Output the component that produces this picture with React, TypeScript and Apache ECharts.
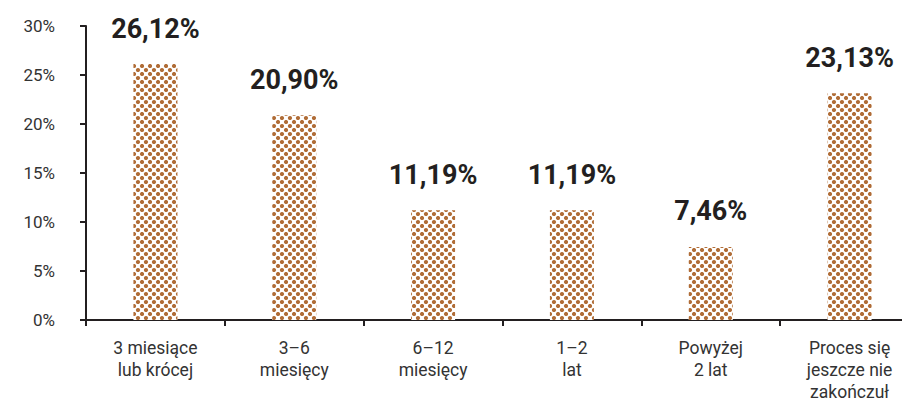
import React, { useEffect, useRef } from "react";
import * as echarts from "echarts";

const categories = [
  "3 miesiące\nlub krócej",
  "3–6\nmiesięcy",
  "6–12\nmiesięcy",
  "1–2\nlat",
  "Powyżej\n2 lat",
  "Proces się\njeszcze nie\nzakończuł",
];
const values = [26.12, 20.9, 11.19, 11.19, 7.46, 23.13];

export default function App() {
  const ref = useRef<HTMLDivElement>(null);
  useEffect(() => {
    if (!ref.current) return;
    const chart = echarts.init(ref.current, null, { renderer: "svg" });
    const font = "Roboto, 'DejaVu Sans', sans-serif";
    chart.setOption({
      animation: false,
      backgroundColor: "#ffffff",
      grid: { left: 86, top: 26, bottom: 84, right: -17, containLabel: false, outerBoundsMode: "none" },
      xAxis: {
        type: "category",
        data: categories,
        axisLine: { show: true, lineStyle: { color: "#231f20", width: 2 } },
        axisTick: { show: true, length: 6, lineStyle: { color: "#231f20", width: 2 } },
        axisLabel: {
          interval: 0,
          margin: 17,
          fontSize: 17.5,
          lineHeight: 22,
          color: "#333333",
          fontFamily: font,
        },
      },
      yAxis: {
        type: "value",
        min: 0,
        max: 30,
        interval: 5,
        splitLine: { show: false },
        axisLine: { show: true, lineStyle: { color: "#231f20", width: 2 } },
        axisTick: { show: true, length: 6, lineStyle: { color: "#231f20", width: 2 } },
        axisLabel: {
          formatter: "{value}%",
          margin: 31,
          fontSize: 17,
          color: "#333333",
          fontFamily: font,
        },
      },
      series: [
        {
          type: "bar",
          data: values,
          barWidth: 44,
          itemStyle: {
            color: "#ffffff",
            decal: {
              symbol: "circle",
              symbolSize: 1.05,
              color: "#b06c36",
              backgroundColor: "#ffffff",
              dashArrayX: [
                [3.3, 3.3],
                [0, 3.3, 3.3, 0],
              ],
              dashArrayY: [3.3, 0],
              rotation: 0,
            },
          },
          label: {
            show: true,
            position: "top",
            distance: 22,
            fontSize: 27,
            fontWeight: "bold",
            color: "#231f20",
            fontFamily: font,
            formatter: (p: any) => p.value.toFixed(2).replace(".", ",") + "%",
          },
        },
      ],
    });
    return () => chart.dispose();
  }, []);
  return (
    <div style={{ position: "fixed", left: 0, top: 0, width: 902, height: 404, overflow: "hidden", background: "#fff" }}>
      <div ref={ref} style={{ width: 902, height: 404 }} />
    </div>
  );
}
